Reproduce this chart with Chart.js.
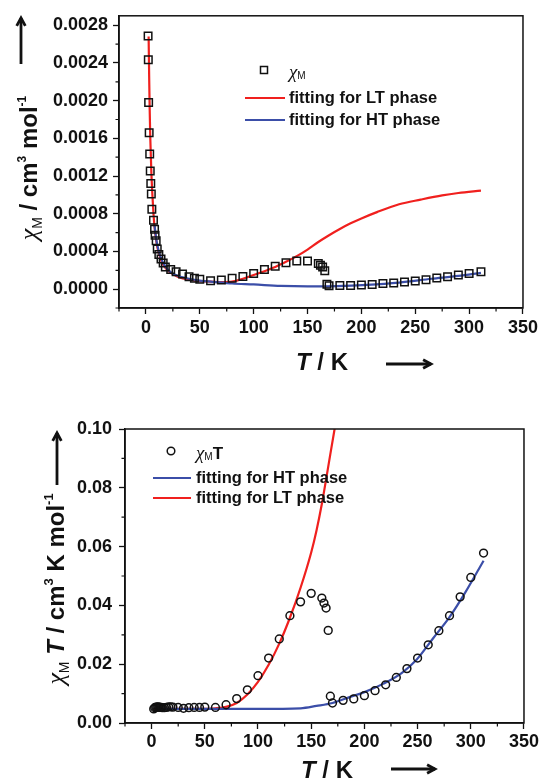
<!DOCTYPE html>
<html>
<head>
<meta charset="utf-8">
<script src="https://cdn.jsdelivr.net/npm/chart.js@4.4.1/dist/chart.umd.min.js"></script>
<style>
  html, body { margin: 0; padding: 0; background: #fff; }
  .box { position: absolute; left: 0; width: 541px; }
  #top { top: 0; height: 385px; }
  #bottom { top: 390px; height: 391px; }
</style>
</head>
<body>
<div class="box" id="top"><canvas id="chiChart" width="541" height="385"></canvas></div>
<div class="box" id="bottom"><canvas id="chiTChart" width="541" height="391"></canvas></div>
<script>
// ---- top panel: chi_M vs T ----
const tTop = [2, 2.2, 2.5, 3, 3.5, 4, 4.5, 5, 5.5, 7, 8, 8.5, 9.5, 10.5, 12, 14, 16, 18, 23, 28, 34, 40, 45, 50,
  60, 70, 80, 90, 100, 110, 120, 130, 140, 150, 160, 162, 164, 166, 168, 170,
  180, 190, 200, 210, 220, 230, 240, 250, 260, 270, 280, 290, 300, 311];
const chiM = [0.002685, 0.002435, 0.00198, 0.00166, 0.001435, 0.001254, 0.001122, 0.00101, 0.000848, 0.00073,
  0.000636, 0.000573, 0.000514, 0.000427, 0.000368, 0.00032, 0.000278, 0.000236, 0.000208, 0.000184, 0.00016,
  0.000132, 0.000115, 0.000104, 0.00009, 0.000097, 0.000115, 0.000135, 0.000167, 0.000208, 0.000243, 0.000281,
  0.000299, 0.000299, 0.000271, 0.000254, 0.000236, 0.000195, 0.000052, 0.000035, 0.000038, 0.000038, 0.000045,
  0.000049, 0.000059, 0.000066, 0.000076, 0.000087, 0.000101, 0.000118, 0.000132, 0.000149, 0.000167, 0.000184];

const tLTfitTop = [2.5, 3, 3.5, 4, 5, 6, 7, 8, 10, 12, 15, 20, 25, 30, 40, 50, 60, 70, 80, 90, 100, 110, 120,
  130, 140, 150, 160, 170, 180, 190, 200, 215, 235, 255, 275, 290, 311];
const chiLTfit = [0.00268, 0.00225, 0.0019, 0.00162, 0.00125, 0.001, 0.0008, 0.00066, 0.00048, 0.00038, 0.00028,
  0.0002, 0.00016, 0.00013, 0.0001, 0.000085, 0.00008, 0.000075, 0.00008, 0.00011, 0.00015, 0.00019, 0.000235,
  0.00029, 0.00035, 0.00042, 0.0005, 0.000572, 0.000638, 0.000698, 0.00075, 0.00082, 0.0009, 0.00095, 0.000995,
  0.00102, 0.001045];

const tHTfitTop = [8, 9, 10, 12, 14, 17, 20, 25, 30, 40, 50, 62, 80, 100, 125, 150, 167, 185, 205, 235, 265, 290, 311];
const chiHTfit = [0.00068, 0.00058, 0.0005, 0.0004, 0.00033, 0.00026, 0.00021, 0.000165, 0.00014, 0.00011,
  0.00009, 0.000078, 0.00006, 0.00005, 0.000035, 0.00003, 0.00003, 0.000035, 0.000045, 0.00007, 0.00011,
  0.00014, 0.000173];

// ---- bottom panel: chi_M T vs T ----
const tBottom = [2, 3, 4, 5, 6, 7, 8, 9, 10, 12, 14, 16, 18, 20, 25, 30, 35, 40, 45, 50, 60, 70, 80, 90, 100,
  110, 120, 130, 140, 150, 160, 162, 164, 166, 168, 170, 180, 190, 200, 210, 220, 230, 240, 250, 260, 270,
  280, 290, 300, 312];
const chiMT = [0.0048, 0.0052, 0.0054, 0.0054, 0.0055, 0.0054, 0.0053, 0.0053, 0.0052, 0.0052, 0.0053, 0.0055,
  0.0055, 0.0054, 0.0053, 0.005, 0.0052, 0.0053, 0.0053, 0.0054, 0.0053, 0.0062, 0.0083, 0.0113, 0.0161,
  0.0221, 0.0286, 0.0365, 0.0412, 0.0441, 0.0425, 0.0408, 0.0391, 0.0315, 0.0091, 0.0068, 0.0077, 0.0082,
  0.0093, 0.011, 0.013, 0.0155, 0.0185, 0.0221, 0.0266, 0.0314, 0.0365, 0.0429, 0.0495, 0.0578];

const tLTfitBottom = [2, 20, 40, 50, 60, 70, 80, 90, 100, 110, 120, 130, 140, 150, 155, 160, 165, 172, 176];
const chiTLTfit = [0.0048, 0.0048, 0.0048, 0.0048, 0.005, 0.0055, 0.0068, 0.0097, 0.014, 0.0198, 0.027, 0.0358,
  0.046, 0.058, 0.0655, 0.0745, 0.085, 0.1, 0.108];

const tHTfitBottom = [5, 50, 100, 140, 155, 170, 186, 200, 218, 235, 249, 265, 280, 295, 312];
const chiTHTfit = [0.0048, 0.0048, 0.0048, 0.005, 0.0058, 0.0068, 0.0088, 0.0105, 0.0134, 0.017, 0.0215,
  0.029, 0.036, 0.0445, 0.0552];

// ---- ticks ----
const xTicks = [0, 50, 100, 150, 200, 250, 300, 350];
const xMinor = [-25, 25, 75, 125, 175, 225, 275, 325];
const yTicksTop = [0, 0.0004, 0.0008, 0.0012, 0.0016, 0.002, 0.0024, 0.0028];
const yMinorTop = [-0.0002, 0.0002, 0.0006, 0.001, 0.0014, 0.0018, 0.0022, 0.0026];
const yTicksBottom = [0, 0.02, 0.04, 0.06, 0.08, 0.1];
const yMinorBottom = [0.01, 0.03, 0.05, 0.07, 0.09];

const legendTopLabels = ['fitting for LT phase', 'fitting for HT phase'];
const legendBottomLabels = ['fitting for HT phase', 'fitting for LT phase'];

const RED = '#f0201e';
const BLUE = '#3b4ea8';
const INK = '#111';
const SANS = '"Liberation Sans", Arial, sans-serif';
const SERIF = '"Liberation Serif", "Times New Roman", serif';

function pts(xs, ys) {
  return xs.map((x, i) => ({ x: x, y: ys[i] }));
}

// draws a run of text pieces with their own fonts, dy shifts for sub/superscripts
function drawRich(ctx, segs, x, y, align) {
  let total = 0;
  segs.forEach(s => { ctx.font = s.f; total += ctx.measureText(s.t).width; });
  let cx = align === 'center' ? x - total / 2 : x;
  segs.forEach(s => {
    ctx.font = s.f;
    ctx.fillText(s.t, cx, y + (s.dy || 0));
    cx += ctx.measureText(s.t).width;
  });
}

function arrow(ctx, x1, y1, x2, y2) {
  const a = Math.atan2(y2 - y1, x2 - x1);
  ctx.save();
  ctx.strokeStyle = INK;
  ctx.lineWidth = 2.8;
  ctx.beginPath();
  ctx.moveTo(x1, y1);
  ctx.lineTo(x2, y2);
  ctx.stroke();
  ctx.beginPath();
  ctx.moveTo(x2 - 9 * Math.cos(a - 0.5), y2 - 9 * Math.sin(a - 0.5));
  ctx.lineTo(x2, y2);
  ctx.lineTo(x2 - 9 * Math.cos(a + 0.5), y2 - 9 * Math.sin(a + 0.5));
  ctx.stroke();
  ctx.restore();
}

// frame + minor ticks
const framePlugin = {
  id: 'frame',
  afterDatasetsDraw(chart, args, opts) {
    const { ctx, chartArea: a, scales } = chart;
    ctx.save();
    ctx.strokeStyle = INK;
    ctx.lineWidth = 1.5;
    ctx.strokeRect(a.left, a.top, a.right - a.left, a.bottom - a.top);
    ctx.lineWidth = 1.2;
    ctx.beginPath();
    opts.xMinor.forEach(v => {
      const px = scales.x.getPixelForValue(v);
      ctx.moveTo(px, a.bottom);
      ctx.lineTo(px, a.bottom + 3.5);
    });
    opts.yMinor.forEach(v => {
      const py = scales.y.getPixelForValue(v);
      ctx.moveTo(a.left, py);
      ctx.lineTo(a.left - 3.5, py);
    });
    ctx.stroke();
    ctx.restore();
  }
};

// axis titles, arrows and the in-plot legend
const annoPlugin = {
  id: 'anno',
  afterDraw(chart, args, o) {
    const ctx = chart.ctx;
    ctx.save();
    ctx.fillStyle = INK;
    ctx.textBaseline = 'alphabetic';

    // y title, rotated
    ctx.save();
    ctx.translate(o.yTitle.x, o.yTitle.y);
    ctx.rotate(-Math.PI / 2);
    drawRich(ctx, o.yTitle.segs, 0, 0, 'center');
    ctx.restore();
    arrow(ctx, o.yArrow[0], o.yArrow[1], o.yArrow[2], o.yArrow[3]);

    // x title
    drawRich(ctx, o.xTitle.segs, o.xTitle.x, o.xTitle.y, 'center');
    arrow(ctx, o.xArrow[0], o.xArrow[1], o.xArrow[2], o.xArrow[3]);

    // legend
    const lg = o.legend;
    ctx.strokeStyle = INK;
    ctx.lineWidth = 1.5;
    if (lg.marker === 'rect') {
      ctx.strokeRect(lg.mx - 3.5, lg.my - 3.5, 7, 7);
    } else {
      ctx.beginPath();
      ctx.arc(lg.mx, lg.my, 3.8, 0, Math.PI * 2);
      ctx.stroke();
    }
    ctx.textBaseline = 'middle';
    drawRich(ctx, lg.first, lg.tx, lg.my + 3, 'left');
    lg.lines.forEach((ln, i) => {
      ctx.strokeStyle = ln.color;
      ctx.lineWidth = 2.2;
      ctx.beginPath();
      ctx.moveTo(lg.lx1, ln.y);
      ctx.lineTo(lg.lx2, ln.y);
      ctx.stroke();
      ctx.font = 'bold 16.5px ' + SANS;
      ctx.fillText(ln.label, lg.tx, ln.y);
    });
    ctx.restore();
  }
};

function axisCommon(ticks, fmt) {
  return {
    type: 'linear',
    afterBuildTicks: (ax) => { ax.ticks = ticks.map(v => ({ value: v })); },
    grid: { drawOnChartArea: false, drawTicks: true, tickLength: 6, tickColor: INK, tickWidth: 1.3 },
    border: { display: true, color: INK, width: 1.5 },
    ticks: {
      color: INK,
      font: { family: SANS, weight: 'bold', size: 18 },
      autoSkip: false,
      maxRotation: 0,
      callback: fmt
    },
    title: { display: false }
  };
}

function makeChart(id, cfg) {
  const xAxis = axisCommon(xTicks, v => String(v));
  xAxis.min = -25; xAxis.max = 350;
  xAxis.ticks.padding = cfg.xPad;
  xAxis.afterFit = (ax) => { ax.height = cfg.xHeight; };
  const yAxis = axisCommon(cfg.yTicks, v => v.toFixed(cfg.yDigits));
  yAxis.min = cfg.yMin; yAxis.max = cfg.yMax;
  yAxis.ticks.padding = cfg.yPad;
  yAxis.afterFit = (ax) => { ax.width = cfg.yWidth; };

  return new Chart(document.getElementById(id), {
    type: 'scatter',
    data: { datasets: cfg.datasets },
    options: {
      responsive: false,
      animation: false,
      devicePixelRatio: 1,
      layout: { padding: cfg.padding },
      scales: { x: xAxis, y: yAxis },
      plugins: {
        legend: { display: false },
        tooltip: { enabled: false },
        frame: { xMinor: xMinor, yMinor: cfg.yMinor },
        anno: cfg.anno
      }
    },
    plugins: [framePlugin, annoPlugin]
  });
}

function fitLine(xs, ys, color, order) {
  return {
    data: pts(xs, ys),
    showLine: true,
    borderColor: color,
    borderWidth: 2.2,
    pointRadius: 0,
    cubicInterpolationMode: 'monotone',
    order: order
  };
}

const chiSub = (size) => [
  { t: 'χ', f: 'italic ' + size + 'px ' + SERIF },
  { t: 'M', f: Math.round(size * 0.55) + 'px ' + SANS, dy: size * 0.18 }
];

makeChart('chiChart', {
  padding: { top: 11, right: 18, left: 0, bottom: 0 },
  xHeight: 77, yWidth: 119, xPad: 3, yPad: 5,
  yMin: -0.0002, yMax: 0.0029, yTicks: yTicksTop, yMinor: yMinorTop, yDigits: 4,
  datasets: [
    fitLine(tLTfitTop, chiLTfit, RED, 3),
    fitLine(tHTfitTop, chiHTfit, BLUE, 2),
    {
      data: pts(tTop, chiM),
      pointStyle: 'rect',
      pointRadius: 5.3,
      pointBorderWidth: 1.5,
      pointBorderColor: INK,
      pointBackgroundColor: 'rgba(0,0,0,0)',
      showLine: false,
      order: 1
    }
  ],
  anno: {
    yTitle: {
      x: 37, y: 168,
      segs: chiSub(26).concat([
        { t: ' / cm', f: 'bold 24px ' + SANS },
        { t: '3', f: 'bold 12px ' + SANS, dy: -11 },
        { t: ' mol', f: 'bold 24px ' + SANS },
        { t: '-1', f: 'bold 12px ' + SANS, dy: -11 }
      ])
    },
    yArrow: [21, 64, 21, 18],
    xTitle: {
      x: 322, y: 370,
      segs: [{ t: 'T', f: 'italic bold 24px ' + SANS }, { t: ' / K', f: 'bold 24px ' + SANS }]
    },
    xArrow: [386, 364, 431, 364],
    legend: {
      marker: 'rect', mx: 264, my: 70, tx: 289,
      first: chiSub(19),
      lx1: 245, lx2: 285,
      lines: [
        { color: RED, y: 98, label: legendTopLabels[0] },
        { color: BLUE, y: 120, label: legendTopLabels[1] }
      ]
    }
  }
});

makeChart('chiTChart', {
  padding: { top: 39, right: 17, left: 0, bottom: 0 },
  xHeight: 58, yWidth: 125, xPad: 2, yPad: 7,
  yMin: 0, yMax: 0.1, yTicks: yTicksBottom, yMinor: yMinorBottom, yDigits: 2,
  datasets: [
    fitLine(tLTfitBottom, chiTLTfit, RED, 3),
    fitLine(tHTfitBottom, chiTHTfit, BLUE, 2),
    {
      data: pts(tBottom, chiMT),
      pointStyle: 'circle',
      pointRadius: 3.9,
      pointBorderWidth: 1.5,
      pointBorderColor: INK,
      pointBackgroundColor: 'rgba(0,0,0,0)',
      showLine: false,
      order: 1
    }
  ],
  anno: {
    yTitle: {
      x: 64, y: 199,
      segs: chiSub(26).concat([
        { t: ' ', f: 'bold 24px ' + SANS },
        { t: 'T', f: 'italic bold 24px ' + SANS },
        { t: ' / cm', f: 'bold 24px ' + SANS },
        { t: '3', f: 'bold 13px ' + SANS, dy: -11 },
        { t: ' K mol', f: 'bold 24px ' + SANS },
        { t: '-1', f: 'bold 13px ' + SANS, dy: -11 }
      ])
    },
    yArrow: [57, 95, 57, 43],
    xTitle: {
      x: 327, y: 388,
      segs: [{ t: 'T', f: 'italic bold 24px ' + SANS }, { t: ' / K', f: 'bold 24px ' + SANS }]
    },
    xArrow: [391, 379, 435, 379],
    legend: {
      marker: 'circle', mx: 171, my: 61, tx: 196,
      first: chiSub(19).concat([{ t: 'T', f: 'bold 17px ' + SANS }]),
      lx1: 153, lx2: 191,
      lines: [
        { color: BLUE, y: 88, label: legendBottomLabels[0] },
        { color: RED, y: 108, label: legendBottomLabels[1] }
      ]
    }
  }
});
</script>
</body>
</html>
